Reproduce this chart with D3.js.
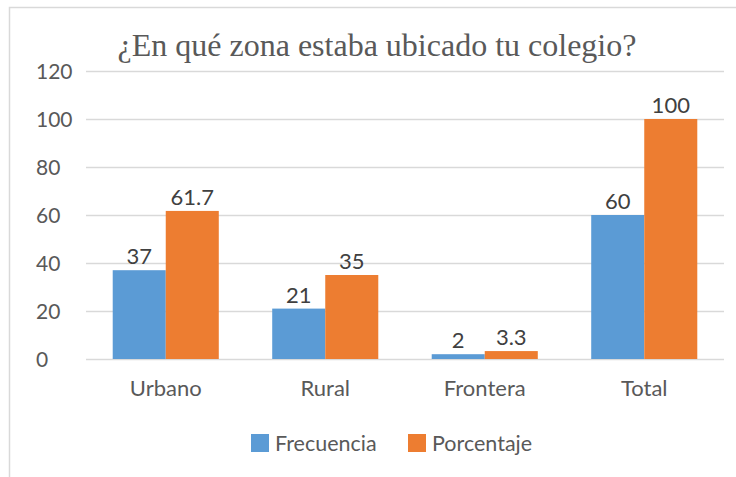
<!DOCTYPE html>
<html><head><meta charset="utf-8">
<script src="https://cdn.jsdelivr.net/npm/d3@7/dist/d3.min.js"></script>
<style>body{margin:0;background:#fff}svg{display:block}</style>
</head><body><svg id="c" width="736" height="477"></svg>
<script>
const title = "¿En qué zona estaba ubicado tu colegio?";
const categories = ["Urbano", "Rural", "Frontera", "Total"];
const seriesNames = ["Frecuencia", "Porcentaje"];
const frecuencia = [37, 21, 2, 60];
const porcentaje = [61.7, 35, 3.3, 100];
const yTicks = [0, 20, 40, 60, 80, 100, 120];
const colors = ["#5B9BD5", "#ED7D31"];

const svg = d3.select("#c");
const W = 736, H = 477;
const m = {left: 86, right: 12, top: 71, bottom: 118};
const x0 = d3.scaleBand().domain(categories).range([m.left, W - m.right]).paddingInner(0.335).paddingOuter(0.1675);
const x1 = d3.scaleBand().domain(seriesNames).range([0, x0.bandwidth()]);
const y = d3.scaleLinear().domain([0, 120]).range([H - m.bottom, m.top]);

// border
svg.append("path").attr("d", `M9.5,${H} V7.5 H${W}`).attr("fill", "none").attr("stroke", "#d9d9d9").attr("stroke-width", 1.5);

// title
svg.append("text").attr("x", 377).attr("y", 56).attr("text-anchor", "middle")
  .attr("font-family", "Liberation Serif, Times New Roman, serif").attr("font-size", 32)
  .attr("fill", "#595959").text(title);

// grid
const yAxis = d3.axisLeft(y).tickValues(yTicks).tickSize(-(W - m.right - m.left)).tickFormat(d3.format("d"));
const gy = svg.append("g").attr("transform", `translate(${m.left},0)`).call(yAxis);
gy.select(".domain").remove();
gy.selectAll(".tick line").attr("stroke", "#d9d9d9").attr("stroke-width", 1.5);
gy.selectAll(".tick text").attr("x", 36 - m.left).attr("text-anchor", "start")
  .attr("font-family", "Lato, Carlito, sans-serif").attr("font-size", 21).attr("fill", "#595959").attr("dy", "0.36em");

// x labels
const xAxis = d3.axisBottom(x0).tickSize(0).tickPadding(21);
const gx = svg.append("g").attr("transform", `translate(0,${y(0)})`).call(xAxis);
gx.select(".domain").remove();
gx.selectAll(".tick text").attr("font-family", "Lato, Carlito, sans-serif").attr("font-size", 22).attr("fill", "#595959");

// bars
const data = categories.map((c, i) => ({c, vals: [frecuencia[i], porcentaje[i]]}));
const groups = svg.append("g").selectAll("g").data(data).join("g")
  .attr("transform", d => `translate(${x0(d.c)},0)`);
groups.selectAll("rect").data(d => d.vals.map((v, j) => ({v, s: seriesNames[j], j}))).join("rect")
  .attr("x", d => x1(d.s)).attr("width", x1.bandwidth())
  .attr("y", d => y(d.v)).attr("height", d => y(0) - y(d.v))
  .attr("fill", d => colors[d.j]);
groups.selectAll("text").data(d => d.vals.map((v, j) => ({v, s: seriesNames[j], j}))).join("text")
  .attr("x", d => x1(d.s) + x1.bandwidth() / 2).attr("y", d => y(d.v) - 6)
  .attr("text-anchor", "middle").attr("font-family", "Lato, Carlito, sans-serif").attr("font-size", 22)
  .attr("fill", "#404040").text(d => d.v);

// legend
const legX = [251, 408];
const leg = svg.append("g").selectAll("g").data(seriesNames).join("g")
  .attr("transform", (d, i) => `translate(${legX[i]},434)`);
leg.append("rect").attr("width", 18).attr("height", 18).attr("fill", (d, i) => colors[i]);
leg.append("text").attr("x", 24).attr("y", 17).attr("font-family", "Lato, Carlito, sans-serif")
  .attr("font-size", 21.5).attr("fill", "#595959").text(d => d);
</script></body></html>
